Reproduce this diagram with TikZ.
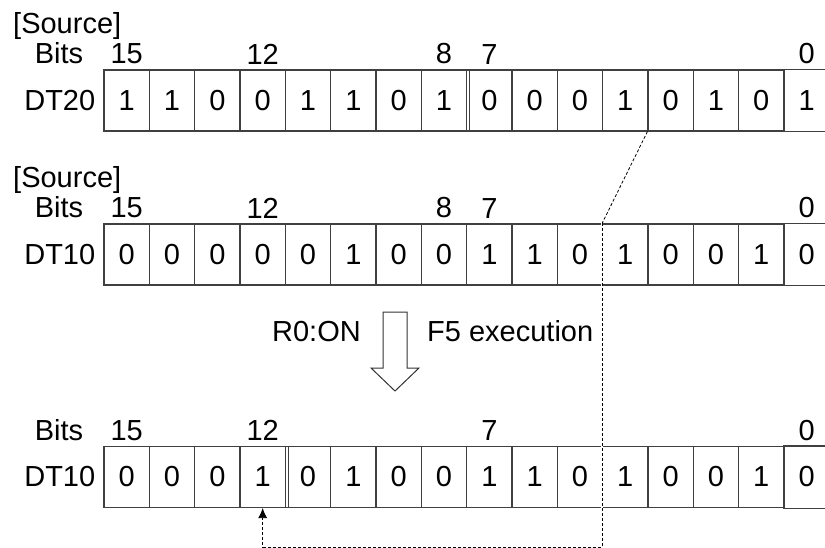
\documentclass[tikz,border=0pt]{standalone}
\usepackage{fontspec}
\setmainfont{Liberation Sans}
\usetikzlibrary{positioning,arrows.meta}

\tikzset{
  cell/.style={draw=black!75, line width=1.1pt, minimum width=45.33pt, minimum height=61pt},
  rule/.style={draw=black!75, line width=1.1pt},
  endcell/.style={cell, draw=none, append after command={
      (\tikzlastnode.north west) edge[rule] ([xshift=20pt]\tikzlastnode.north east)
      (\tikzlastnode.south west) edge[rule] ([xshift=20pt]\tikzlastnode.south east)}},
  link/.style={line width=0.8pt, dash pattern=on 3pt off 2pt},
}

\begin{document}
\begin{tikzpicture}[x=1pt, y=-1pt, inner sep=0pt, >={Latex[length=10pt,width=9pt]},
    font=\fontsize{29}{34}\selectfont]
        \useasboundingbox (0,0) rectangle (825,548);
        \clip (0,0) rectangle (825,548);
        % DT20
        \node[anchor=base west] (srcA) at (13,34) {[Source]};
        \foreach \v [count=\i from 0] in {1,1,0,0,1,1,0,1,0,0,0,1,0,1,0,1} {
            \pgfmathtruncatemacro\b{15-\i}
            \ifnum\b=0 \def\sty{endcell}\else\def\sty{cell}\fi
            \node[\sty] (a\b) at (126.67+45.33*\i,100.5) {\v};
        }
        \draw[rule] ([xshift=2.5pt]a8.north east) -- ([xshift=2.5pt]a8.south east);
        \node[left=8pt of a15] (dtA) {DT20};
        \foreach \b in {15,12,8,7,0}
            \node[above=5pt of a\b] (na\b) {\b};
        \node[base left=27pt of na15] (bitsA) {Bits};
        % DT10 before
        \node[anchor=base west] (srcB) at (13,188) {[Source]};
        \foreach \v [count=\i from 0] in {0,0,0,0,0,1,0,0,1,1,0,1,0,0,1,0} {
            \pgfmathtruncatemacro\b{15-\i}
            \ifnum\b=0 \def\sty{endcell}\else\def\sty{cell}\fi
            \node[\sty] (b\b) at (126.67+45.33*\i,254.5) {\v};
        }
        \node[left=8pt of b15] (dtB) {DT10};
        \foreach \b in {15,12,8,7,0}
            \node[above=5pt of b\b] (nb\b) {\b};
        \node[base left=27pt of nb15] (bitsB) {Bits};
        % DT10 after
        \foreach \v [count=\i from 0] in {0,0,0,1,0,1,0,0,1,1,0,1,0,0,1,0} {
            \pgfmathtruncatemacro\b{15-\i}
            \ifnum\b=0 \def\sty{endcell}\else\def\sty{cell}\fi
            \node[\sty] (c\b) at (126.67+45.33*\i,477) {\v};
        }
        \draw[rule] ([xshift=2.5pt]c12.north east) -- ([xshift=2.5pt]c12.south east);
        \node[left=8pt of c15] (dtC) {DT10};
        \foreach \b in {15,12,7,0}
            \node[above=5pt of c\b] (nc\b) {\b};
        \node[base left=27pt of nc15] (bitsC) {Bits};
        % execution arrow
        \draw[draw=black!80, line width=1pt, line join=miter]
            (383,312) -- (407,312) -- (407,368) -- (419,368) -- (395,391)
            -- (371,368) -- (383,368) -- cycle;
        \node[anchor=base east] (cond) at (361,341) {R0:ON};
        \node[anchor=base west] (exec) at (427,341) {F5 execution};
        % bit transfer
        \coordinate (low) at (c12.south |- 0,547);
        \draw[link] (a3.south west) -- (b4.north west);
        \draw[link, ->, preaction={draw=white, solid, line width=1.6pt}]
            (b4.north west) |- (low) -- (c12.south);
    \end{tikzpicture}
\end{document}
